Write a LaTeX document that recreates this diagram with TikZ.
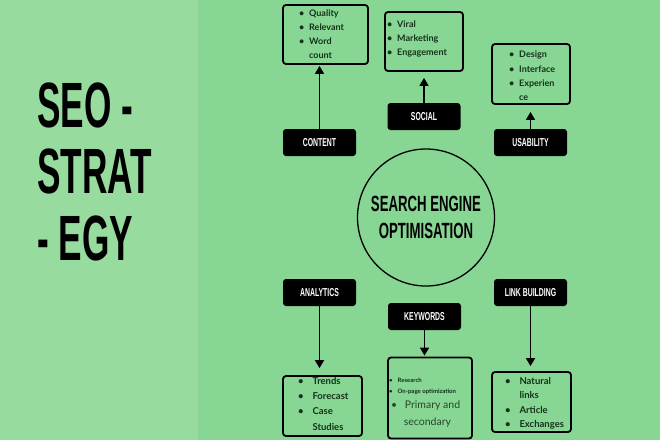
\documentclass[tikz,border=0pt]{standalone}
\usepackage{fontspec}
\setmainfont{Lato}
\newfontfamily\headfont[FakeStretch=0.55]{Liberation Sans}
\newfontfamily\capsfont[FakeStretch=0.6]{Liberation Sans}
\usepackage{tikz}
\usetikzlibrary{arrows.meta}
\definecolor{leftgreen}{RGB}{151,219,159}
\definecolor{rightgreen}{RGB}{136,214,147}
\definecolor{inkgreen}{RGB}{20,50,28}
\definecolor{softink}{RGB}{38,70,44}
\newcommand{\bul}[1][10pt]{\makebox[#1][l]{\textbullet}}
\newcommand{\gap}[1][10pt]{\hspace*{#1}}

\begin{document}
\begin{tikzpicture}[x=1pt,y=-1pt,
  tag/.style={fill=black,rounded corners=3pt,minimum width=73pt,minimum height=27pt,inner sep=0pt,
    text=white,font=\capsfont\bfseries\fontsize{11.5}{11.5}\selectfont},
  card/.style={draw=black,line width=1.8pt,rounded corners=3pt,inner sep=0pt},
  items/.style={anchor=north west,inner sep=0pt,align=left,text=inkgreen},
  title/.style={anchor=west,inner sep=0pt,font=\headfont\bfseries\fontsize{64}{64}\selectfont},
  link/.style={line width=1.6pt,-{Triangle[width=9pt,length=8pt]}}]
  \useasboundingbox (0,0) rectangle (660,440);
  \fill[leftgreen] (0,0) rectangle (198,440);
  \fill[rightgreen] (198,0) rectangle (660,440);

  % title
  \node[title] (seo) at (37,105) {SEO -};
  \node[title] (strat) at (37,171.5) {STRAT};
  \node[title] (egy) at (37,238.5) {- EGY};

  % hub
  \node[circle,draw,line width=1.3pt,minimum size=137pt,align=center,
    font=\capsfont\bfseries\fontsize{22}{27}\selectfont] (hub) at (426,217.5) {SEARCH ENGINE\\OPTIMISATION};

  % tags
  \node[tag] (content) at (319.5,142.5) {CONTENT};
  \node[tag] (social) at (424,116.5) {SOCIAL};
  \node[tag] (usability) at (530.5,142.5) {USABILITY};
  \node[tag] (analytics) at (319.5,292.5) {ANALYTICS};
  \node[tag] (keywords) at (424.5,316.5) {KEYWORDS};
  \node[tag] (linkbuilding) at (530.5,292.5) {LINK BUILDING};

  % cards
  \node[card,minimum width=85pt,minimum height=59pt] (contentcard) at (325.5,34.5) {};
  \node[card,minimum width=78pt,minimum height=59pt] (socialcard) at (424,41.5) {};
  \node[card,minimum width=78pt,minimum height=60pt] (usabilitycard) at (531,74) {};
  \node[card,minimum width=79pt,minimum height=60pt] (analyticscard) at (322.5,406) {};
  \node[card,minimum width=84pt,minimum height=81pt] (keywordscard) at (430,398) {};
  \node[card,minimum width=79pt,minimum height=60pt] (linkcard) at (531.5,402) {};

  \node[items,font=\bfseries\fontsize{9}{14}\selectfont] (contentlist) at (299,10)
    {\bul Quality\\\bul Relevant\\\bul Word\\\gap count};
  \node[items,font=\bfseries\fontsize{9}{14}\selectfont] (sociallist) at (387,21)
    {\bul Viral\\\bul Marketing\\\bul Engagement};
  \node[items,font=\bfseries\fontsize{9}{14.3}\selectfont] (usabilitylist) at (509,51)
    {\bul Design\\\bul Interface\\\bul Experien\\\gap ce};
  \node[items,font=\bfseries\fontsize{9.5}{15.3}\selectfont] (analyticslist) at (298,377)
    {\bul[12pt] Trends\\\bul[12pt] Forecast\\\bul[12pt] Case\\\gap[12pt] Studies};
  \node[items,font=\bfseries\fontsize{9.5}{14.4}\selectfont] (linklist) at (505,377)
    {\bul[12pt] Natural\\\gap[12pt] links\\\bul[12pt] Article\\\bul[12pt] Exchanges};
  \node[items,font=\bfseries\fontsize{6}{11}\selectfont] (keywordsmall) at (389,378)
    {\bul[7pt] Research\\\bul[7pt] On-page optimization};
  \node[items,text=softink,font=\fontsize{10.5}{17}\selectfont] (keywordbig) at (391,401)
    {\bul[11pt] Primary and\\\gap[10pt] secondary};

  % arrows
  \draw[link,shorten >=1pt] (content.north) -- (content.north |- contentcard.south);
  \draw[link,shorten >=6pt] (social.north) -- (social.north |- socialcard.south);
  \draw[link,shorten >=7pt] (usability.north) -- (usability.north |- usabilitycard.south);
  \draw[link,shorten >=7pt] (analytics.south) -- (analytics.south |- analyticscard.north);
  \draw[link,shorten >=1pt] (keywords.south) -- (keywords.south |- keywordscard.north);
  \draw[link,shorten >=5pt] (linkbuilding.south) -- (linkbuilding.south |- linkcard.north);
\end{tikzpicture}
\end{document}
